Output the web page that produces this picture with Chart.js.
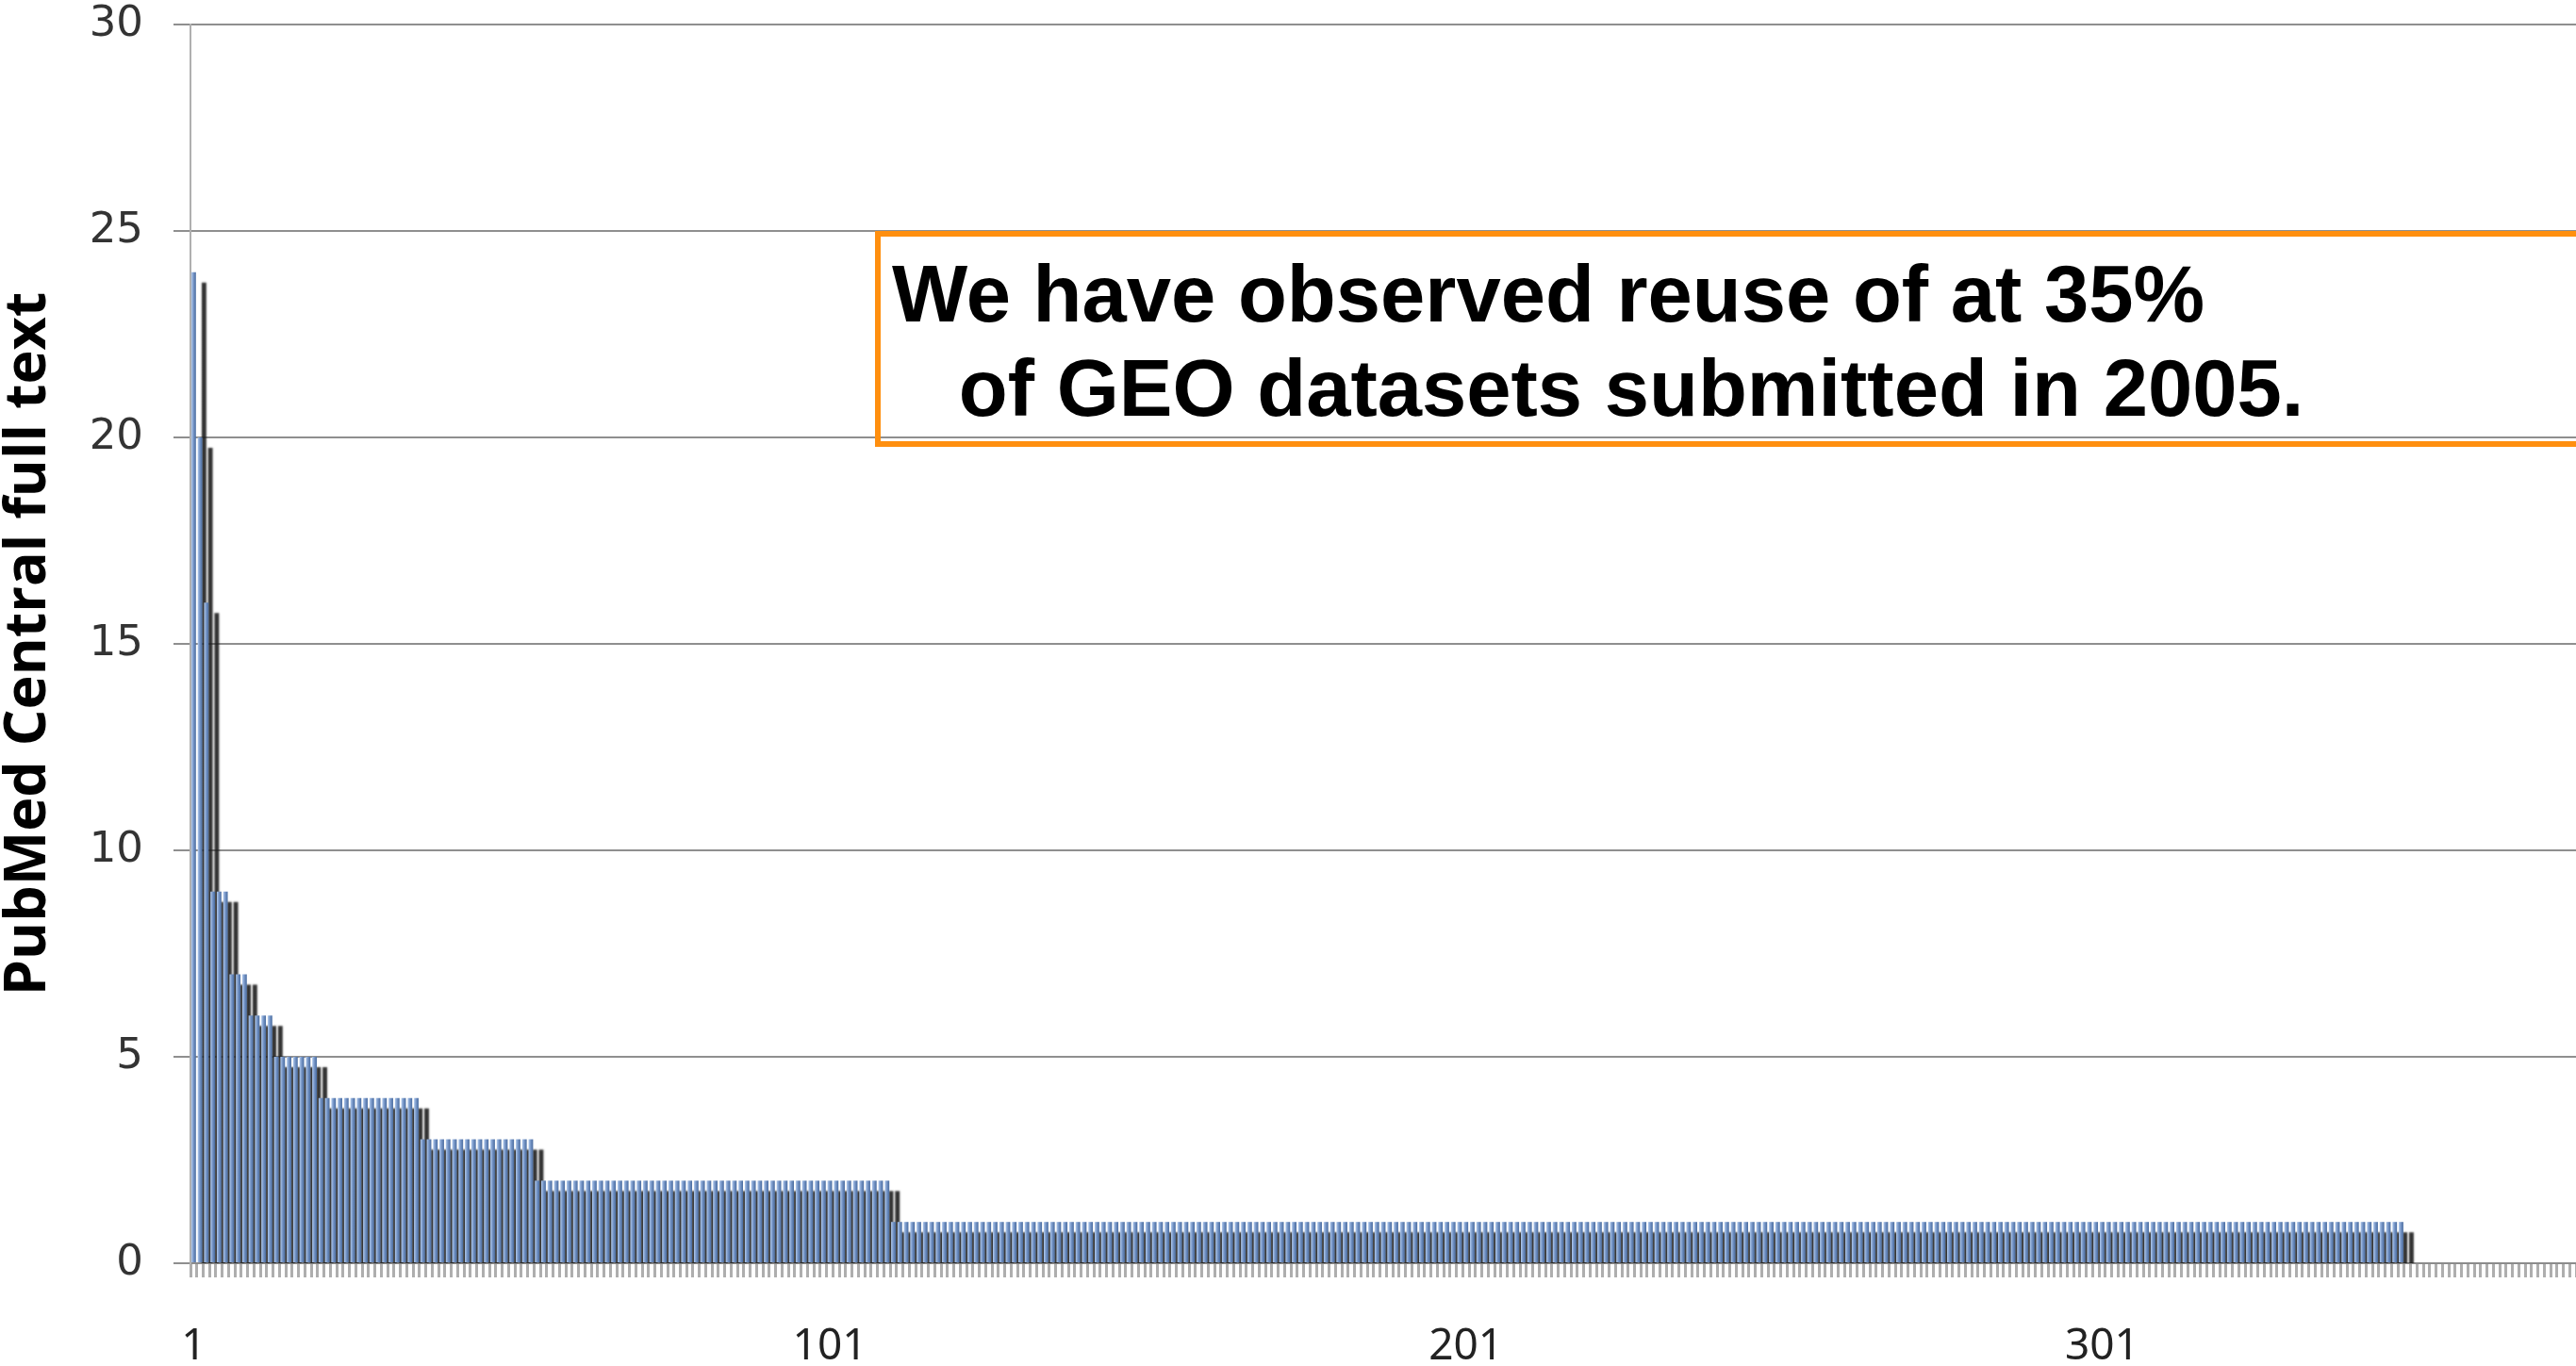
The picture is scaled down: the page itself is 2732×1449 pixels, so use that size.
<!DOCTYPE html>
<html>
<head>
<meta charset="utf-8">
<script src="https://cdn.jsdelivr.net/npm/chart.js@4.4.1/dist/chart.umd.min.js"></script>
<style>
  html, body { margin: 0; padding: 0; background: #ffffff; }
  #wrap { width: 2732px; height: 1449px; position: relative; }
</style>
</head>
<body>
<div id="wrap"><canvas id="reuseChart"></canvas></div>
<script>
// number of PubMed Central papers reusing each GEO dataset, sorted high to low
const reuseCounts = [
  24, 20, 16, 9, 9, 9, 7, 7, 7, 6, 6, 6, 6, 5, 5, 5, 5, 5, 5, 5, 4, 4, 4, 4, 4,
  4, 4, 4, 4, 4, 4, 4, 4, 4, 4, 4, 3, 3, 3, 3, 3, 3, 3, 3, 3, 3, 3, 3, 3, 3,
  3, 3, 3, 3, 2, 2, 2, 2, 2, 2, 2, 2, 2, 2, 2, 2, 2, 2, 2, 2, 2, 2, 2, 2, 2,
  2, 2, 2, 2, 2, 2, 2, 2, 2, 2, 2, 2, 2, 2, 2, 2, 2, 2, 2, 2, 2, 2, 2, 2, 2,
  2, 2, 2, 2, 2, 2, 2, 2, 2, 2, 1, 1, 1, 1, 1, 1, 1, 1, 1, 1, 1, 1, 1, 1, 1,
  1, 1, 1, 1, 1, 1, 1, 1, 1, 1, 1, 1, 1, 1, 1, 1, 1, 1, 1, 1, 1, 1, 1, 1, 1,
  1, 1, 1, 1, 1, 1, 1, 1, 1, 1, 1, 1, 1, 1, 1, 1, 1, 1, 1, 1, 1, 1, 1, 1, 1,
  1, 1, 1, 1, 1, 1, 1, 1, 1, 1, 1, 1, 1, 1, 1, 1, 1, 1, 1, 1, 1, 1, 1, 1, 1,
  1, 1, 1, 1, 1, 1, 1, 1, 1, 1, 1, 1, 1, 1, 1, 1, 1, 1, 1, 1, 1, 1, 1, 1, 1,
  1, 1, 1, 1, 1, 1, 1, 1, 1, 1, 1, 1, 1, 1, 1, 1, 1, 1, 1, 1, 1, 1, 1, 1, 1,
  1, 1, 1, 1, 1, 1, 1, 1, 1, 1, 1, 1, 1, 1, 1, 1, 1, 1, 1, 1, 1, 1, 1, 1, 1,
  1, 1, 1, 1, 1, 1, 1, 1, 1, 1, 1, 1, 1, 1, 1, 1, 1, 1, 1, 1, 1, 1, 1, 1, 1,
  1, 1, 1, 1, 1, 1, 1, 1, 1, 1, 1, 1, 1, 1, 1, 1, 1, 1, 1, 1, 1, 1, 1, 1, 1,
  1, 1, 1, 1, 1, 1, 1, 1, 1, 1, 1, 1, 1, 1, 1, 1, 1, 1, 1, 1, 1, 1, 1, 0, 0,
  0, 0, 0, 0, 0, 0, 0, 0, 0, 0, 0, 0, 0, 0, 0, 0, 0, 0, 0, 0, 0, 0, 0, 0, 0
];

// dataset rank 1..n along the x axis
const datasetRanks = reuseCounts.map((v, i) => String(i + 1));

// only these ranks get a printed label
const xTickLabels = ['1', '101', '201', '301'];

const yAxisTitle = 'PubMed Central full text';

const noteLines = [
  'We have observed reuse of at 35%',
  '   of GEO datasets submitted in 2005.'
];

// drop shadow behind every bar (the old Excel look)
const barShadow = {
  id: 'barShadow',
  beforeDatasetDraw(chart) {
    const ctx = chart.ctx;
    ctx.save();
    ctx.shadowColor = 'rgba(25, 25, 25, 0.9)';
    ctx.shadowOffsetX = 11;
    ctx.shadowOffsetY = 11;
    ctx.shadowBlur = 2;
  },
  afterDatasetDraw(chart) {
    chart.ctx.restore();
  }
};

// orange call-out box
const noteBox = {
  id: 'noteBox',
  afterDraw(chart) {
    const ctx = chart.ctx;
    ctx.save();
    ctx.lineWidth = 6;
    ctx.strokeStyle = '#ff8f0f';
    ctx.strokeRect(931, 248, 1820, 223);
    ctx.fillStyle = '#000000';
    ctx.font = 'bold 85px "Liberation Sans", Arial, sans-serif';
    ctx.textBaseline = 'alphabetic';
    noteLines.forEach(function (line, i) {
      ctx.fillText(line, 946, 341 + i * 100);
    });
    ctx.restore();
  }
};

function barFill(context) {
  const chart = context.chart;
  const xScale = chart.scales.x;
  if (context.type !== 'data' || !xScale || !chart.chartArea) {
    return '#7898c8';
  }
  const x = xScale.getPixelForValue(context.dataIndex);
  const half = xScale.width / datasetRanks.length * 0.36;
  const g = chart.ctx.createLinearGradient(x - half, 0, x + half, 0);
  g.addColorStop(0, '#b3ccee');
  g.addColorStop(0.45, '#7897c8');
  g.addColorStop(1, '#476a9e');
  return g;
}

const ctx = document.getElementById('reuseChart').getContext('2d');

const reuseChart = new Chart(ctx, {
  type: 'bar',
  data: {
    labels: datasetRanks,
    datasets: [{
      label: 'Reuse count',
      data: reuseCounts,
      backgroundColor: barFill,
      borderWidth: 0,
      barPercentage: 0.72,
      categoryPercentage: 1.0
    }]
  },
  options: {
    responsive: true,
    maintainAspectRatio: false,
    devicePixelRatio: 1,
    animation: false,
    layout: {
      padding: { top: 26, right: 0, bottom: 3, left: 0 }
    },
    plugins: {
      legend: { display: false },
      tooltip: { enabled: false }
    },
    scales: {
      x: {
        offset: true,
        // keep the plot running right up to the edge like the cropped original
        afterFit: function (scale) {
          scale.height = 106;
          scale.paddingLeft = 0;
          scale.paddingRight = 0;
        },
        grid: {
          display: true,
          drawOnChartArea: false,
          drawTicks: true,
          tickLength: 15,
          tickWidth: 3,
          tickColor: 'rgba(165, 165, 165, 0.9)'
        },
        border: {
          display: true,
          color: '#8c8c8c',
          width: 2
        },
        ticks: {
          autoSkip: false,
          maxRotation: 0,
          minRotation: 0,
          padding: 46,
          color: '#222222',
          font: { family: '"Noto Sans", sans-serif', size: 46 },
          callback: function (value) {
            const lab = this.getLabelForValue(value);
            return xTickLabels.includes(lab) ? lab : '';
          }
        }
      },
      y: {
        min: 0,
        max: 30,
        afterFit: function (scale) {
          scale.width = 202;
          scale.paddingTop = 0;
          scale.paddingBottom = 0;
        },
        ticks: {
          stepSize: 5,
          padding: 32,
          color: '#333333',
          font: { family: '"DejaVu Sans", sans-serif', size: 45 }
        },
        grid: {
          color: '#8f8f8f',
          lineWidth: 2,
          tickLength: 18
        },
        border: {
          display: true,
          color: '#b0b0b0',
          width: 2
        },
        title: {
          display: true,
          text: yAxisTitle,
          color: '#000000',
          font: { family: '"Open Sans", sans-serif', size: 61, weight: 'bold', lineHeight: 1.0 },
          padding: { top: 0, bottom: 34 }
        }
      }
    }
  },
  plugins: [barShadow, noteBox]
});
</script>
</body>
</html>
